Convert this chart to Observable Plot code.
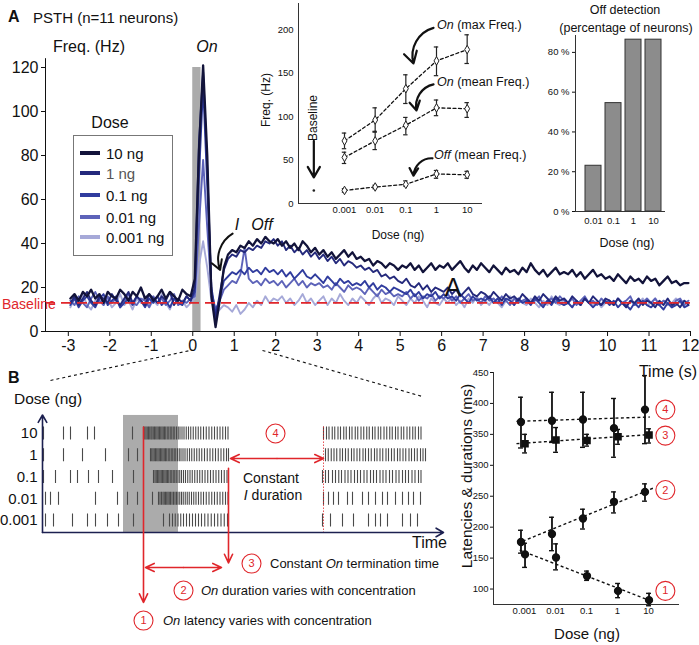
<!DOCTYPE html>
<html><head><meta charset="utf-8">
<script src="https://cdn.jsdelivr.net/npm/d3@7"></script>
<script src="https://cdn.jsdelivr.net/npm/@observablehq/plot@0.6"></script>
<style>
body{margin:0;background:#fff;}
#fig{position:relative;width:699px;height:645px;overflow:hidden;font-family:"Liberation Sans",Arial,Helvetica,sans-serif;color:#111;background:#fff;}
#fig .t{position:absolute;white-space:nowrap;line-height:1;}
</style></head><body><div id="fig"></div>
<script>
// ---------- Panel A: PSTH ----------
const doses = ["10 ng", "1 ng", "0.1 ng", "0.01 ng", "0.001 ng"];
const doseColors = ["#12133a", "#24297c", "#303c9e", "#5d63b9", "#a6a9d8"];
const psthBinStart = -2.95, psthBinWidth = 0.1;
const psth10 = [15,17,14,18,16,19,15,17,13,18,16,15,19,17,14,18,16,20,15,17,14,16,19,15,18,16,14,19,17,16,
  24,82,121,80,16,2,14,29,
  35,37,36,39,38,41,39,42,40,43,41,40,
  42,39,41,38,40,37,41,39,36,38, 35,37,34,36,33,35,37,34,36,33, 34,32,33,30,32,31,29,31,30,28,
  30,29,31,28,30,27,29,31,28,30, 29,31,28,30,32,29,27,30,28,31, 29,27,30,28,26,29,27,28,26,29,
  27,31,28,26,28,25,27,29,26,27, 26,28,25,27,24,26,28,25,26,24, 25,23,26,24,22,25,23,24,22,25,
  23,24,21,23,25,22,23,21,22,22];
const psth1 = [13,16,12,15,18,14,12,16,15,13,17,14,12,15,18,13,16,14,12,17,15,13,16,14,18,12,15,13,16,14,
  20,86,118,74,18,6,17,28,
  33,35,34,37,36,38,37,39,38,41,40,42,
  39,41,37,39,36,38,35,37,34,36, 33,35,32,34,31,33,30,32,31,29, 30,28,29,27,28,25,26,24,25,23,
  22,24,21,20,22,19,21,18,20,19, 18,20,17,19,16,18,20,17,16,18, 17,15,18,16,14,17,15,16,14,17,
  15,13,16,14,17,15,13,16,14,15, 13,16,14,12,15,13,16,14,12,15, 14,12,15,13,11,14,13,15,12,14,
  13,11,14,12,15,12,13,11,14,12];
const psth01 = [12,15,11,14,16,13,11,15,17,12,14,16,11,13,15,12,16,14,11,15,13,16,12,14,11,15,13,12,16,14,
  18,70,112,66,20,8,15,23,
  25,27,26,28,26,29,27,28,26,29,27,28,
  26,28,25,27,24,26,28,25,24,26, 24,22,25,23,21,24,22,23,21,22, 21,23,20,22,19,21,20,18,20,19,
  18,17,19,16,18,15,17,16,18,15, 17,15,16,14,17,15,13,16,14,15, 14,16,13,15,12,15,14,12,15,13,
  14,12,15,13,11,14,12,15,13,12, 13,11,14,12,15,13,11,13,12,14, 12,14,11,13,12,10,13,11,14,12,
  11,13,12,10,13,11,12,14,11,12];
const psth001 = [14,12,16,13,11,15,18,14,12,16,13,15,11,14,17,13,12,15,14,11,16,13,15,12,14,17,12,14,13,15,
  16,48,78,47,18,10,14,19,
  21,23,22,26,38,24,22,23,21,24,22,23,
  21,23,20,22,24,21,23,20,22,21, 22,20,21,19,22,20,18,21,19,20, 19,17,20,18,16,19,17,18,16,17,
  16,18,15,17,14,16,15,17,14,16, 15,17,14,16,13,15,17,14,15,13, 16,14,15,13,16,14,12,15,13,14,
  15,13,14,16,12,14,15,13,16,14, 13,15,12,14,16,13,14,12,15,13, 14,12,15,13,14,16,12,14,13,15,
  13,15,12,14,13,11,14,15,12,14];
const psth0001 = [11,15,13,17,12,10,14,16,12,15,11,13,17,12,14,10,15,13,16,11,14,12,17,13,10,15,12,14,11,13,
  15,30,41,29,14,8,10,12,
  11,9,12,8,10,13,11,14,12,16,13,15,
  14,16,13,15,12,14,17,13,15,12, 14,16,12,15,13,17,14,12,15,13, 16,14,12,15,17,13,15,14,12,16,
  14,12,15,13,16,14,11,15,13,12, 15,13,16,12,14,11,15,13,16,12, 14,12,15,13,11,14,16,12,15,13,
  12,15,13,11,14,12,16,13,12,15, 13,11,14,12,15,13,12,14,11,13, 14,12,15,13,11,14,12,13,15,12,
  13,15,12,14,12,13,15,13,14,13];
const psthSeries = [psth10, psth1, psth01, psth001, psth0001];
const psthYTicks = [0, 20, 40, 60, 80, 100, 120];
const psthXTicks = [-3,-2,-1,0,1,2,3,4,5,6,7,8,9,10,11,12];
const stimulus = {start: 0, end: 0.2, top: 120};
const baselineHz = 13;

// Inset: frequency vs dose
const insetDoses = [0.001, 0.01, 0.1, 1, 10];
const onMax = [72, 96, 132, 164, 177], onMaxLo = [63, 82, 115, 147, 161], onMaxHi = [81, 110, 148, 180, 194];
const onMean = [53, 72, 90, 110, 109], onMeanLo = [46, 62, 79, 101, 99], onMeanHi = [59, 83, 99, 119, 116];
const offMean = [15, 19, 22, 34, 33], offMeanLo = [13, 17, 20, 29, 29], offMeanHi = [17, 21, 26, 38, 37];
const baselineDose = 0.0001, baselineFreq = 15;
const insetYTicks = [0, 50, 100, 150, 200];

// Off detection bars
const barDoses = ["0.01", "0.1", "1", "10"];
const barPct = [23, 54.5, 86.4, 86.4];
const barYTicks = [0, 20, 40, 60, 80];

// ---------- Panel B: raster (times in ms, stimulus 0-220) ----------
const rasterRows = ["10", "1", "0.1", "0.01", "0.001"];
const spikes10 = [-320,-240,-212,-144,-116,36,
  80,85,90,95,100,105,110,114,119,124,129,134,139,144,149,154,159,164,169,175,181,187,193,199,205,212,219,226,234,242,251,260,269,279,289,299,309,320,331,342,353,364,375,386,397,408,418,
  800,812,822,835,845,858,868,881,891,904,914,927,937,950,961,973,983,996,1006,1019,1029,1042,1053,1065,1075,1088,1098,1111,1121,1134,1145,1157,1167,1180,1190];
const spikes1 = [-320,-240,-164,-72,20,56,
  108,113,118,123,128,133,138,143,148,153,158,163,168,173,179,185,191,197,203,209,216,223,230,238,246,255,264,273,283,293,303,313,324,335,346,357,368,379,390,401,412,420,
  808,819,831,842,853,866,876,888,899,912,922,934,945,958,968,980,991,1004,1014,1026,1037,1050,1060,1072,1083,1096,1106,1118,1129,1142,1152,1164,1175,1188,1198,1208];
const spikes01 = [-320,-272,-212,-184,-140,-100,-44,40,
  120,126,131,136,141,146,151,156,161,166,171,176,181,187,193,199,205,211,218,225,232,240,248,257,266,275,285,295,305,315,326,337,348,359,370,381,392,403,414,
  796,808,820,836,848,861,872,886,898,910,924,936,948,962,974,988,1000,1012,1026,1038,1050,1064,1076,1090,1102,1116,1128,1140,1154,1166,1180,1190];
const spikes001 = [-312,-292,-260,-112,-24,16,56,116,
  140,146,152,158,163,168,173,178,183,188,194,200,206,212,218,225,232,239,247,255,263,272,281,290,300,310,320,331,342,353,364,375,386,397,408,418,
  800,820,840,860,896,916,956,980,1008,1036,1056,1088,1116,1140,1160,1188];
const spikes0001 = [-312,-280,-204,-144,-112,-64,-20,40,
  160,184,196,207,218,229,240,252,264,276,288,300,312,325,338,351,364,377,390,403,416,
  796,828,876,920,980,1008,1028,1056,1116,1148,1176];
const rasterSpikes = [spikes10, spikes1, spikes01, spikes001, spikes0001];
const rasterStim = {start: 0, end: 220};
const onLatencyT = 80, onEndT = 420, iEndT = 800;

// Latencies & durations
const latDoses = [0.001, 0.01, 0.1, 1, 10];
const latXLeft = [0.00077, 0.0077, 0.077, 0.77, 7.7];
const latXRight = [0.00104, 0.0104, 0.104, 1.04, 10.4];
const iDur = [370, 372, 374, 360, 390], iDurLo = [328, 337, 329, 313, 335], iDurHi = [410, 418, 418, 408, 445];
const onTerm = [335, 341, 340, 346, 349], onTermLo = [320, 321, 331, 334, 336], onTermHi = [350, 361, 350, 358, 359];
const onDur = [176, 189, 214, 241, 257], onDurLo = [158, 162, 197, 223, 242], onDurHi = [195, 216, 229, 257, 270];
const onLat = [156, 151, 121, 97, 82], onLatLo = [135, 131, 114, 86, 73], onLatHi = [174, 173, 129, 109, 93];
const latTrends = [
  {id: "4", x1: 0.00055, y1: 371, x2: 11, y2: 378},
  {id: "3", x1: 0.00055, y1: 335, x2: 14, y2: 350},
  {id: "2", x1: 0.0006, y1: 174, x2: 14, y2: 263},
  {id: "1", x1: 0.0007, y1: 163, x2: 11.5, y2: 81}
];
const latLabels = [{id: "4", y: 390}, {id: "3", y: 348}, {id: "2", y: 260}, {id: "1", y: 97}];
const latYTicks = [100, 150, 200, 250, 300, 350, 400, 450];

// ---------- helpers ----------
const fig = document.getElementById("fig");
const FONT = "'Liberation Sans', Arial, Helvetica, sans-serif";
const baseStyle = {background: "transparent", overflow: "visible", fontFamily: FONT, color: "#111"};
function place(el, left, top) {
  el.style.position = "absolute"; el.style.left = left + "px"; el.style.top = top + "px";
  fig.appendChild(el); return el;
}
function lab(x, y, html, o = {}) {
  const el = document.createElement("div");
  el.className = "t";
  el.innerHTML = html;
  const tx = o.anchor === "middle" ? "-50%" : o.anchor === "end" ? "-100%" : "0";
  el.style.left = x + "px"; el.style.top = y + "px";
  el.style.fontSize = (o.size || 15) + "px";
  el.style.color = o.color || "#111";
  if (o.weight) el.style.fontWeight = o.weight;
  if (o.italic) el.style.fontStyle = "italic";
  el.style.transform = `translate(${tx},-50%)` + (o.rotate ? ` rotate(${o.rotate}deg)` : "");
  fig.appendChild(el); return el;
}
const RED = "#e0262b";

// ---------- PSTH ----------
const psthRows = psthSeries.map((vals, k) => vals.map((v, i) => ({dose: doses[k], t: psthBinStart + i * psthBinWidth, v})));
const psthPlot = Plot.plot({
  width: 699, height: 360, marginLeft: 45, marginRight: 9, marginTop: 67, marginBottom: 29,
  x: {domain: [-3.55, 12]}, y: {domain: [0, 120]},
  style: baseStyle,
  marks: [
    Plot.rect([stimulus], {x1: "start", x2: "end", y1: 0, y2: "top", fill: "#ababab"}),
    ...[4, 3, 2, 1, 0].map(k => Plot.line(psthRows[k], {x: "t", y: "v", stroke: doseColors[k], strokeWidth: k === 0 ? 2.3 : 1.9, strokeLinejoin: "round"})),
    Plot.ruleY([baselineHz], {stroke: RED, strokeWidth: 1.6, strokeDasharray: "10,6"}),
    Plot.ruleX([-3.55], {y1: 0, y2: 124, stroke: "#111"}),
    Plot.ruleY([0], {stroke: "#111"}),
    Plot.axisY({ticks: psthYTicks, tickSize: 4, tickPadding: 3, fontSize: 16, label: null}),
    Plot.axisX({ticks: psthXTicks, tickSize: 5, tickPadding: 3, fontSize: 16, label: null, tickFormat: d => String(d)}),
    Plot.arrow([{x1: 0.96, y1: 44.5, x2: 0.66, y2: 28}], {x1: "x1", y1: "y1", x2: "x2", y2: "y2", bend: -40, strokeWidth: 2, headLength: 8, stroke: "#111"})
  ]
});
place(psthPlot, 0, 0);

// ---------- Inset ----------
const insetSets = [
  {m: onMax, lo: onMaxLo, hi: onMaxHi},
  {m: onMean, lo: onMeanLo, hi: onMeanHi},
  {m: offMean, lo: offMeanLo, hi: offMeanHi}
];
const insetPts = insetSets.flatMap((s, j) => insetDoses.map((d, i) => ({set: j, x: d, y: s.m[i], lo: s.lo[i], hi: s.hi[i]})));
const insetPlot = Plot.plot({
  width: 250, height: 250, marginLeft: 48, marginRight: 18, marginTop: 3, marginBottom: 47,
  x: {type: "log", domain: [10 ** -4.5, 10 ** 1.5]}, y: {domain: [0, 230]},
  style: baseStyle,
  marks: [
    Plot.ruleX([10 ** -4.5], {stroke: "#333"}),
    Plot.ruleY([0], {stroke: "#333"}),
    Plot.line(insetPts, {x: "x", y: "y", z: "set", stroke: "#111", strokeWidth: 1.3, strokeDasharray: "3,2.5"}),
    Plot.ruleX(insetPts, {x: "x", y1: "lo", y2: "hi", stroke: "#222", strokeWidth: 1.2}),
    Plot.ruleY(insetPts, {y: "lo", x1: d => d.x / 1.18, x2: d => d.x * 1.18, stroke: "#222", strokeWidth: 1.2}),
    Plot.ruleY(insetPts, {y: "hi", x1: d => d.x / 1.18, x2: d => d.x * 1.18, stroke: "#222", strokeWidth: 1.2}),
    Plot.dot(insetPts, {x: "x", y: "y", symbol: "diamond", r: 2.6, stroke: "#222", fill: "#fff", strokeWidth: 1}),
    Plot.dot([{x: baselineDose, y: baselineFreq}], {x: "x", y: "y", r: 1.3, fill: "#222"}),
    Plot.axisY({ticks: insetYTicks, tickSize: 0, tickPadding: 5, fontSize: 9.5, label: null}),
    Plot.axisX({ticks: insetDoses, tickSize: 0, tickPadding: 3, fontSize: 9.5, label: null, tickFormat: d => String(d)}),
    Plot.arrow([
      {x1: 0.8, y1: 202, x2: 0.178, y2: 161},
      {x1: 0.8, y1: 137, x2: 0.224, y2: 107},
      {x1: 0.74, y1: 52, x2: 0.178, y2: 32}
    ], {x1: "x1", y1: "y1", x2: "x2", y2: "y2", bend: -45, stroke: "#111", strokeWidth: 2.2, headLength: 9}),
    Plot.arrow([{x1: baselineDose, y1: 72, x2: baselineDose, y2: 30}], {x1: "x1", y1: "y1", x2: "x2", y2: "y2", stroke: "#111", strokeWidth: 2.2, headLength: 9})
  ]
});
place(insetPlot, 250, 0);

// ---------- Bars ----------
const barRows = barDoses.map((d, i) => ({i, d, v: barPct[i]}));
const barPlot = Plot.plot({
  width: 159, height: 260, marginLeft: 35, marginRight: 34, marginTop: 35, marginBottom: 49,
  x: {domain: [-0.9, 3.6]}, y: {domain: [0, 88.5]},
  style: baseStyle,
  marks: [
    Plot.rectY(barRows, {x1: d => d.i - 0.4, x2: d => d.i + 0.4, y: "v", fill: "#8c8c8c", stroke: "#333", strokeWidth: 1}),
    Plot.ruleX([-0.9], {stroke: "#333"}),
    Plot.ruleY([0], {stroke: "#333"}),
    Plot.axisY({ticks: barYTicks, tickFormat: d => d + " %", tickSize: 3, tickPadding: 3, fontSize: 9.5, label: null}),
    Plot.axisX({ticks: [0, 1, 2, 3], tickFormat: i => barDoses[i], tickSize: 0, tickPadding: 6, fontSize: 9.5, label: null})
  ]
});
place(barPlot, 540, 0);

// ---------- Raster ----------
const spikeRows = rasterSpikes.flatMap((arr, r) => arr.map(t => ({t, r})));
const rowY = rasterRows.map((d, r) => ({d, r}));
const rAxis = 4.55, rTop = -0.85, xMin = -324, xMax = 1280;
const circ = [{x: 608, y: 0, n: "4"}, {x: 512, y: 5.98, n: "3"}, {x: 240, y: 7.22, n: "2"}, {x: 80, y: 8.6, n: "1"}];
const rasterPlot = Plot.plot({
  width: 460, height: 305, marginLeft: 42, marginRight: 17, marginTop: 0, marginBottom: 0,
  x: {domain: [xMin, xMax], axis: null}, y: {domain: [-4.276, 9.747], reverse: true, axis: null},
  style: baseStyle,
  marks: [
    Plot.link([{x1: -292, y1: -2.44, x2: 268, y2: -3.82}, {x1: 556, y1: -3.82, x2: 1196, y2: -1.7}],
      {x1: "x1", y1: "y1", x2: "x2", y2: "y2", stroke: "#111", strokeWidth: 1.1, strokeDasharray: "3,3"}),
    Plot.rect([rasterStim], {x1: "start", x2: "end", y1: -0.83, y2: rAxis, fill: "#ababab"}),
    Plot.ruleX(spikeRows, {x: "t", y1: d => d.r - 0.3, y2: d => d.r + 0.3, stroke: "#4a4a4a", strokeWidth: 1.1}),
    Plot.ruleX([iEndT], {y1: -0.3, y2: rAxis, stroke: RED, strokeWidth: 0.8, strokeDasharray: "1.5,1.5"}),
    Plot.text(rowY, {x: xMin, y: "r", text: "d", textAnchor: "end", dx: -5, fontSize: 15}),
    Plot.arrow([{x1: xMin, y1: rAxis, x2: xMax, y2: rAxis}, {x1: xMin, y1: rAxis, x2: xMin, y2: rTop}],
      {x1: "x1", y1: "y1", x2: "x2", y2: "y2", stroke: "#1c2050", strokeWidth: 1.6, headLength: 8}),
    Plot.arrow([
      {x1: onLatencyT, y1: -0.3, x2: onLatencyT, y2: 7.77},
      {x1: onEndT, y1: 1.6, x2: onEndT, y2: 5.95},
      {x1: 240, y1: 6.16, x2: 88, y2: 6.16}, {x1: 240, y1: 6.16, x2: 392, y2: 6.16},
      {x1: 614, y1: 1.15, x2: 428, y2: 1.15}, {x1: 614, y1: 1.15, x2: 800, y2: 1.15}
    ], {x1: "x1", y1: "y1", x2: "x2", y2: "y2", stroke: RED, strokeWidth: 1.6, headLength: 9, headAngle: 50}),
    Plot.dot(circ, {x: "x", y: "y", r: 9.5, stroke: RED, fill: "#fff", strokeWidth: 1.1}),
    Plot.text(circ, {x: "x", y: "y", text: "n", fill: RED, fontSize: 11})
  ]
});
place(rasterPlot, 0, 340);

// ---------- Latencies ----------
const latSets = [
  {id: "4", xs: latXLeft, m: iDur, lo: iDurLo, hi: iDurHi, sym: "circle"},
  {id: "3", xs: latXRight, m: onTerm, lo: onTermLo, hi: onTermHi, sym: "square"},
  {id: "2", xs: latXLeft, m: onDur, lo: onDurLo, hi: onDurHi, sym: "circle"},
  {id: "1", xs: latXRight, m: onLat, lo: onLatLo, hi: onLatHi, sym: "circle"}
];
const latPts = latSets.flatMap(s => latDoses.map((d, i) => ({id: s.id, sym: s.sym, x: s.xs[i], y: s.m[i], lo: s.lo[i], hi: s.hi[i]})));
const latPlot = Plot.plot({
  width: 259, height: 305, marginLeft: 53, marginRight: 20, marginTop: 32, marginBottom: 41,
  x: {type: "log", domain: [1e-4, 100]}, y: {domain: [75, 450]},
  symbol: {domain: ["circle", "square"], range: ["circle", "square"]},
  style: baseStyle,
  marks: [
    Plot.ruleX([1e-4], {stroke: "#333"}),
    Plot.ruleY([75], {stroke: "#333"}),
    Plot.link(latTrends, {x1: "x1", y1: "y1", x2: "x2", y2: "y2", stroke: "#111", strokeWidth: 1.4, strokeDasharray: "3,2.5"}),
    Plot.ruleX(latPts, {x: "x", y1: "lo", y2: "hi", stroke: "#111", strokeWidth: 1.8}),
    Plot.ruleY(latPts, {y: "lo", x1: d => d.x / 1.2, x2: d => d.x * 1.2, stroke: "#111", strokeWidth: 1.4}),
    Plot.ruleY(latPts, {y: "hi", x1: d => d.x / 1.2, x2: d => d.x * 1.2, stroke: "#111", strokeWidth: 1.4}),
    Plot.dot(latPts, {x: "x", y: "y", symbol: "sym", r: 3.4, fill: "#111", stroke: "#111"}),
    Plot.axisY({ticks: latYTicks, tickSize: 3, tickPadding: 2, fontSize: 9.5, label: null}),
    Plot.axisX({ticks: latDoses, tickSize: 0, tickPadding: 3, fontSize: 9.5, label: null, tickFormat: d => String(d)}),
    Plot.dot(latLabels, {x: () => 35, y: "y", r: 9.5, stroke: RED, fill: "#fff", strokeWidth: 1.1}),
    Plot.text(latLabels, {x: () => 35, y: "y", text: "id", fill: RED, fontSize: 11})
  ]
});
place(latPlot, 440, 340);

// ---------- Text ----------
lab(8, 17, "A", {size: 16, weight: "bold"});
lab(33, 17, "PSTH (n=11 neurons)", {size: 15});
lab(53, 47, "Freq. (Hz)", {size: 16});
lab(207, 47, "On", {size: 16, italic: true, anchor: "middle"});
lab(237, 225, "I", {size: 16, italic: true, anchor: "middle"});
lab(262, 225, "Off", {size: 16, italic: true, anchor: "middle"});
lab(453, 287, "A", {size: 25, anchor: "middle"});
lab(2, 304, "Baseline", {size: 14, color: RED});
lab(697, 372, "Time (s)", {size: 16, anchor: "end"});
// legend
const leg = document.createElement("div");
leg.style.cssText = "position:absolute;left:73px;top:135px;width:98px;height:119px;border:1px solid #777;background:#fff;";
fig.appendChild(leg);
lab(110, 123, "Dose", {size: 16, anchor: "middle"});
const legY = [153, 173, 195, 217, 237];
doses.forEach((d, k) => {
  const sw = document.createElement("div");
  sw.style.cssText = `position:absolute;left:80px;top:${legY[k] - 2}px;width:20px;height:4px;background:${doseColors[k]};`;
  fig.appendChild(sw);
  lab(106, legY[k], d, {size: 15, color: k === 1 ? "#555" : "#111"});
});
// inset text
lab(266, 100, "Freq. (Hz)", {size: 12, anchor: "middle", rotate: -90});
lab(313, 118, "Baseline", {size: 12, anchor: "middle", rotate: -90});
lab(398, 235, "Dose (ng)", {size: 12, anchor: "middle"});
lab(437, 25, "<i>On</i> (max Freq.)", {size: 12.5});
lab(437, 82, "<i>On</i> (mean Freq.)", {size: 12.5});
lab(434, 155, "<i>Off</i> (mean Freq.)", {size: 12.5});
// bar text
lab(625, 10, "Off detection", {size: 12.5, anchor: "middle"});
lab(626, 28, "(percentage of neurons)", {size: 12.5, anchor: "middle"});
lab(627, 243, "Dose (ng)", {size: 12.5, anchor: "middle"});
// panel B text
lab(8, 378, "B", {size: 16, weight: "bold"});
lab(14, 399, "Dose (ng)", {size: 15.5});
lab(447, 543, "Time", {size: 16, anchor: "end"});
lab(271, 478, "Constant", {size: 14, anchor: "middle"});
lab(273, 495, "<i>I</i> duration", {size: 14, anchor: "middle"});
lab(270, 563, "Constant <i>On</i> termination time", {size: 13});
lab(201, 590, "<i>On</i> duration varies with concentration", {size: 13});
lab(163, 620, "<i>On</i> latency varies with concentration", {size: 13});
lab(467, 476, "Latencies &amp; durations (ms)", {size: 15.5, anchor: "middle", rotate: -90});
lab(587, 633, "Dose (ng)", {size: 15, anchor: "middle"});
</script></body></html>
